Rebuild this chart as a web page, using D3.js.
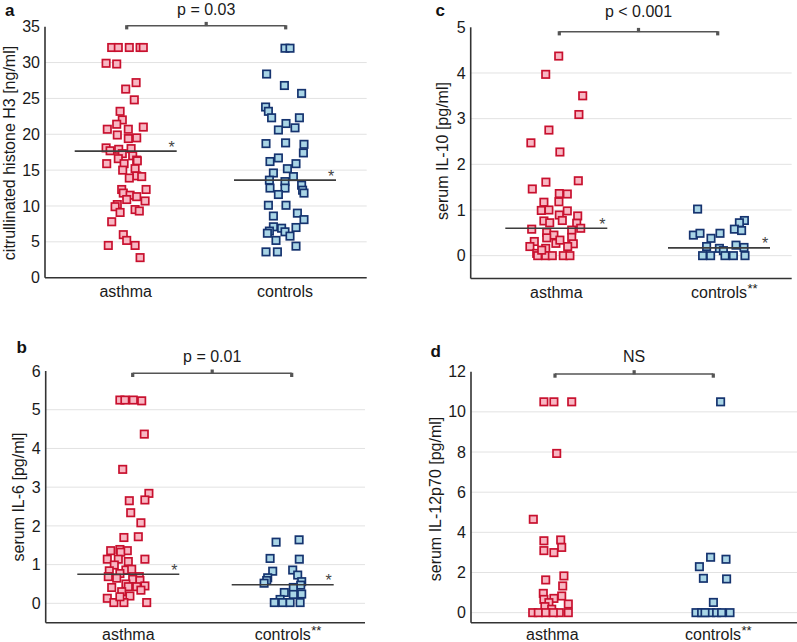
<!DOCTYPE html>
<html><head><meta charset="utf-8">
<script src="https://cdn.jsdelivr.net/npm/d3@7"></script>
<style>body{margin:0;background:#fff}svg{display:block;font-family:"Liberation Sans",Arial,sans-serif}</style>
</head><body><svg id="chart" width="797" height="642"></svg>
<script>
const categories = ["asthma", "controls"];

// Each point: [value, horizontal jitter in -1..1 units]
const h3Asthma = [[32.1,-0.70],[32.1,-0.37],[32.1,0.18],[32.1,0.72],[32.1,0.88],[29.9,-0.98],[29.8,-0.45],
 [27.2,0.52],[26.3,0],[24.8,0.43],[23.2,-0.28],[22.0,-0.17],[21.4,-0.45],[21.0,0.88],[20.7,-0.92],[20.7,0.13],
 [19.9,-0.42],[19.5,0.55],[19.4,0.13],[18.1,-0.98],[17.9,-0.35],[18.0,0.27],[17.7,-0.78],[17.3,-0.17],[17.0,0.35],
 [16.6,-0.37],[16.4,0.55],[15.9,-0.95],[15.9,-0.08],[16.3,0.58],[15.2,0.47],[15.0,-0.15],[14.2,0.55],[14.1,0.80],
 [13.9,0.18],[12.3,-0.20],[12.3,1.02],[11.8,-0.12],[11.5,0.22],[11.3,0.55],[10.9,0.05],[10.7,0.97],[10.2,-0.42],
 [9.9,-0.53],[9.5,0.47],[9.3,0.68],[9.1,-0.28],[7.8,-0.70],[6.0,-0.12],[5.2,0.05],[4.5,-0.87],[4.5,0.47],[2.8,0.72]];
const h3Controls = [[32.0,0],[32.0,0.25],[28.4,-0.92],[26.8,-0.03],[25.7,0.83],[23.8,-0.97],[23.2,-0.83],[22.3,-0.67],
 [22.3,0.72],[21.5,0.05],[20.9,0.50],[20.6,-0.33],[18.7,-0.95],[18.8,0.03],[18.6,0.95],[17.4,0.92],[16.7,-0.33],
 [16.2,-0.75],[15.9,0.55],[15.2,0.12],[14.6,-0.58],[14.1,0.42],[13.6,-0.78],[13.4,0],[12.9,0.83],[12.5,-0.75],
 [12.5,0],[12.2,0.88],[11.6,-0.33],[11.8,0.95],[10.1,-0.83],[10.1,0.05],[9.0,0.62],[8.6,-0.58],[8.1,0.95],
 [7.1,-0.58],[6.9,-0.17],[7.0,0.55],[6.5,-0.78],[6.4,0],[5.8,0.25],[5.2,-0.45],[4.4,0.55],[3.6,-0.95],[3.6,-0.38],[6.2,-0.88]];

const il6Asthma = [[5.25,-0.42],[5.25,-0.17],[5.25,0.25],[5.23,0.67],[4.37,0.8],[3.46,-0.28],[2.84,1.03],[2.67,0.83],
 [2.65,0.05],[2.34,0.12],[2.08,0.63],[1.70,-0.22],[1.72,0.5],[1.14,0.83],[1.36,-0.88],[1.39,-0.42],[1.36,-0.05],
 [1.32,-0.38],[1.14,-1.05],[1.08,0],[1.14,-0.5],[0.99,-0.7],[0.84,-0.95],[0.86,-0.12],[0.88,0.17],[0.77,-0.42],
 [0.69,-1.0],[0.69,0.55],[0.65,-0.58],[0.62,0.22],[0.59,0.58],[0.5,-0.12],[0.41,-0.83],[0.43,0],[0.43,0.42],
 [0.45,0.83],[0.30,-0.33],[0.34,0.63],[0.19,0.08],[0.13,-1.05],[0.02,-0.72],[0.02,-0.22],[0.02,0.92],[0.17,-0.42]];
const il6Controls = [[1.58,-0.33],[1.64,0.82],[1.16,-0.63],[1.14,0.83],[0.83,-0.5],[0.86,0.5],[0.73,0.75],[0.66,-0.75],
 [0.59,-0.8],[0.52,-0.93],[0.56,0.95],[0.47,0.9],[0.41,0.53],[0.28,0.08],[0.24,0.95],[0.23,0.53],[0.10,-0.13],
 [0.02,-0.42],[0.02,0],[0.02,0.37],[0.02,0.87]];

const il10Asthma = [[4.37,0.12],[3.97,-0.53],[3.50,1.32],[3.09,1.13],[2.75,-0.37],[2.47,-1.27],[2.27,0.18],[1.64,1.10],
 [1.61,-0.52],[1.46,-1.2],[1.36,0.15],[1.35,0.55],[1.17,-0.62],[1.18,0.13],[0.99,-0.75],[1.0,-0.37],[0.98,0.55],
 [0.87,1.07],[0.89,0.15],[0.76,-0.62],[0.72,-0.33],[0.77,0.3],[0.71,1.02],[0.58,-1.23],[0.6,1.22],[0.56,0.77],
 [0.51,-0.48],[0.45,-0.12],[0.40,0.77],[0.39,-0.48],[0.31,-1.1],[0.27,-0.02],[0.26,0.85],[0.2,-1.32],[0.2,0.57],
 [0.16,-0.53],[0.05,-0.98],[0,-0.93],[0,-0.53],[0,-0.2],[0,0.35],[0,0.68],[0.12,-0.73],[0.34,0.18]];
const il10Controls = [[1.02,-1.07],[0.45,-1.28],[0.49,-0.95],[0.49,0.05],[0.38,-0.4],[0.77,1.27],[0.72,1.02],[0.58,0.77],
 [0.55,1.13],[0.2,-0.62],[0.16,0.02],[0.23,0.85],[0.18,1.25],[0.11,0.22],[0,-0.82],[0,-0.42],[0,0.3],[0,0.72],[0,1.3]];

const il12Asthma = [[10.5,-0.42],[10.5,0.08],[10.5,0.97],[7.93,0.22],[4.65,-0.95],[3.58,-0.42],[3.62,0.42],[3.09,-0.42],
 [3.25,0.47],[2.99,0.08],[1.63,-0.33],[1.83,0.58],[1.33,0.52],[0.96,-0.45],[0.83,0.47],[0.71,0.08],[0.66,-0.42],
 [0.5,-0.17],[0.43,0.8],[0.3,-0.37],[0.17,-0.03],[0,-0.98],[0,-0.7],[0,-0.33],[0,0.35],[0,0.8],[0,0.05]];
const il12Controls = [[10.5,0.38],[2.76,-0.12],[2.66,0.65],[2.29,-0.68],[1.71,-0.48],[1.68,0.68],[0.51,0.02],
 [0,-0.85],[0,-0.57],[0,-0.12],[0,0.18],[0,0.43],[0,0.85],[0,-0.4]];

const medians = { a: [17.65, 13.6], b: [0.75, 0.48], c: [0.6, 0.17], d: null };
const pLabels = { a: "p = 0.03", b: "p = 0.01", c: "p < 0.001", d: "NS" };
const yTitles = { a: "citrullinated histone H3 [ng/ml]", b: "serum IL-6 [pg/ml]", c: "serum IL-10 [pg/ml]", d: "serum IL-12p70 [pg/ml]" };
const yTicksA = [0,5,10,15,20,25,30,35];
const yTicksB = [0,1,2,3,4,5,6];
const yTicksC = [0,1,2,3,4,5];
const yTicksD = [0,2,4,6,8,10,12];

const panels = [
 { id:"a", data:[h3Asthma,h3Controls], ticks:yTicksA, domain:[0,35], yRange:[277.7,26.7], left:45, right:366.7,
   xRange:[125.7,285], brShift:[1,0.7], brY:25.7, pY:14.8, labY:297, stars:false,
   title:{x:15,y:153}, letter:{x:5,y:15.5} },
 { id:"b", data:[il6Asthma,il6Controls], ticks:yTicksB, domain:[-0.5,6], yRange:[622.7,371], left:45.7, right:365,
   xRange:[128.3,282.7], brShift:[4.4,9], brY:373.3, pY:361.5, labY:640, stars:true,
   title:{x:24,y:497}, letter:{x:16.5,y:353} },
 { id:"c", data:[il10Asthma,il10Controls], ticks:yTicksC, domain:[-0.5,5], yRange:[278.5,27.3], left:470.7, right:791.7,
   xRange:[556.3,719], brShift:[3,-1.3], brY:31.7, pY:16.5, labY:297.5, stars:true,
   title:{x:448,y:151}, letter:{x:435.5,y:15.5} },
 { id:"d", data:[il12Asthma,il12Controls], ticks:yTicksD, domain:[-0.5,12], yRange:[622.7,371.7], left:471, right:797,
   xRange:[552.3,713], brShift:[2.7,0.3], brY:374, pY:361.5, labY:640, stars:true,
   title:{x:441,y:499}, letter:{x:430.5,y:356.5} }
];

const colors = {
  asthma: { fill: "#f8b7c3", stroke: "#c8102e" },
  controls: { fill: "#a9d5e6", stroke: "#15336f" }
};

const svg = d3.select("#chart");
const jitter = d3.scaleLinear([-1, 1], [-20, 20]);
const S = 7.4;

panels.forEach(p => {
  const g = svg.append("g");
  const y = d3.scaleLinear(p.domain, p.yRange);
  const x = d3.scalePoint(categories, p.xRange);
  const axisY = y(p.domain[0]);

  // gridlines
  g.selectAll("line.grid").data(p.ticks.slice(0, -1)).join("line")
    .attr("x1", p.left).attr("x2", p.right)
    .attr("y1", d => y(d)).attr("y2", d => y(d))
    .attr("stroke", "#e2e2e2").attr("stroke-width", 1);

  // y axis
  const ya = g.append("g").attr("transform", `translate(${p.left},0)`)
    .call(d3.axisLeft(y).tickValues(p.ticks).tickSize(0).tickPadding(5).tickFormat(d3.format("d")));
  ya.select(".domain").attr("stroke", "#333").attr("stroke-width", 1.6)
    .attr("d", `M0,${y(p.ticks[p.ticks.length-1])}V${axisY}`);
  ya.selectAll("text").attr("font-size", 16).attr("fill", "#1a1a1a")
    .attr("font-family", '"Liberation Sans",Arial,sans-serif');

  // x axis line
  g.append("line").attr("x1", p.left).attr("x2", p.right).attr("y1", axisY).attr("y2", axisY)
    .attr("stroke", "#333").attr("stroke-width", 1.6);

  // category labels
  categories.forEach((c, i) => {
    const t = g.append("text").attr("x", x(c)).attr("y", p.labY).attr("text-anchor", "middle")
      .attr("font-size", 16).attr("fill", "#1a1a1a").text(c);
    if (i === 1 && p.stars) {
      const w = t.node().getComputedTextLength();
      g.append("text").attr("x", x(c) + w / 2 + 0.5).attr("y", p.labY - 5)
        .attr("font-size", 13).attr("fill", "#1a1a1a").text("**");
    }
  });

  // points
  categories.forEach((c, i) => {
    g.append("g").selectAll("rect").data(p.data[i]).join("rect")
      .attr("x", d => x(c) + jitter(d[1]) - S / 2)
      .attr("y", d => y(d[0]) - S / 2)
      .attr("width", S).attr("height", S)
      .attr("fill", colors[c].fill).attr("stroke", colors[c].stroke).attr("stroke-width", 1.7);
  });

  // medians
  const med = medians[p.id];
  if (med) {
    categories.forEach((c, i) => {
      const my = y(med[i]);
      g.append("line").attr("x1", x(c) - 51).attr("x2", x(c) + 51).attr("y1", my).attr("y2", my)
        .attr("stroke", "#3d3d3d").attr("stroke-width", 1.6);
      g.append("text").attr("x", x(c) + 46).attr("y", my + 1.5).attr("text-anchor", "middle")
        .attr("font-size", 16).attr("fill", "#444").text("*");
    });
  }

  // bracket
  const bx1 = x(categories[0]) + p.brShift[0], bx2 = x(categories[1]) + p.brShift[1];
  const bm = (bx1 + bx2) / 2;
  const bc = "#555";
  g.append("line").attr("x1", bx1).attr("x2", bx2).attr("y1", p.brY).attr("y2", p.brY)
    .attr("stroke", bc).attr("stroke-width", 1.5);
  [bx1, bx2].forEach(bx => g.append("rect").attr("x", bx - 1.6).attr("y", p.brY - 0.5)
    .attr("width", 3.2).attr("height", 4.2).attr("fill", bc));
  g.append("rect").attr("x", bm - 1.6).attr("y", p.brY - 3.8).attr("width", 3.2).attr("height", 4.2).attr("fill", bc);
  g.append("text").attr("x", bm).attr("y", p.pY).attr("text-anchor", "middle")
    .attr("font-size", 16).attr("fill", "#1a1a1a").text(pLabels[p.id]);

  // y title
  g.append("text").attr("transform", `translate(${p.title.x},${p.title.y}) rotate(-90)`)
    .attr("text-anchor", "middle").attr("font-size", 16).attr("fill", "#1a1a1a").text(yTitles[p.id]);

  // panel letter
  g.append("text").attr("x", p.letter.x).attr("y", p.letter.y).attr("font-size", 17)
    .attr("font-weight", "bold").attr("fill", "#111").text(p.id);
});
</script></body></html>
